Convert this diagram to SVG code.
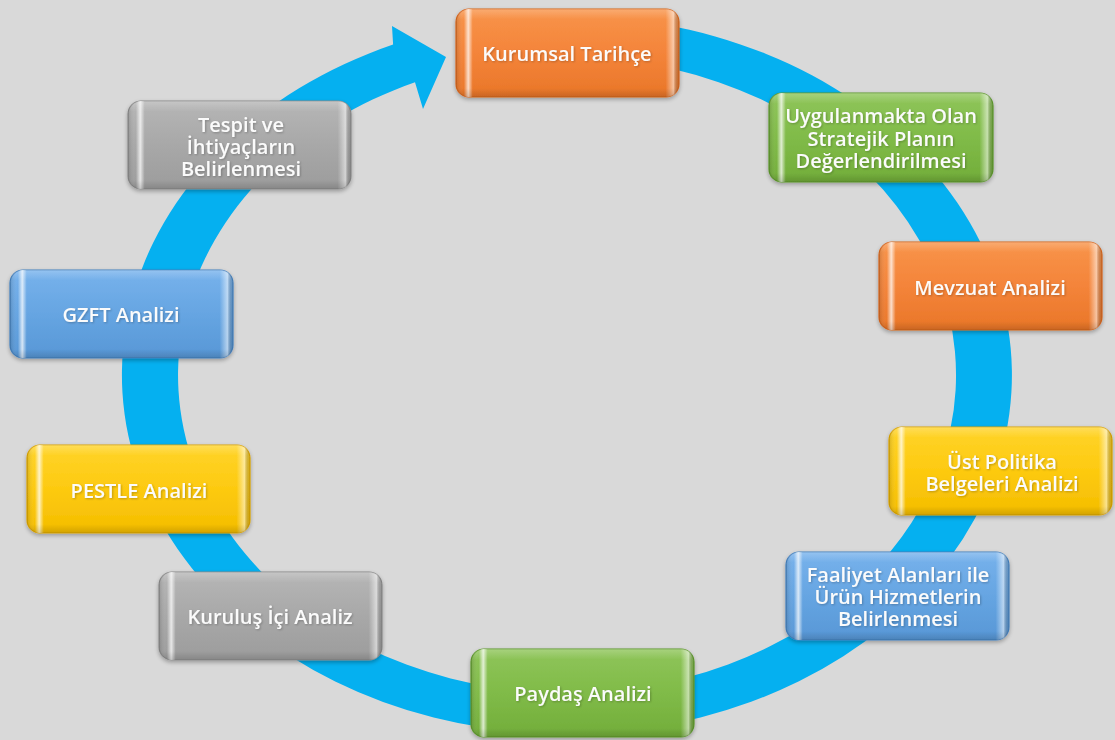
<svg xmlns="http://www.w3.org/2000/svg" width="1115" height="740" viewBox="0 0 1115 740">
<style>
  .lbl { font-family: "Open Sans", "Liberation Sans", sans-serif; font-size: 20px; font-weight: 600; fill: #fbfbfb; text-anchor: middle; dominant-baseline: central; }
  .box { stroke-width: 1.2; }
  .ring { fill: #05b0f0; }
</style>
<defs>
  <linearGradient id="gOrange" x1="0" y1="0" x2="0" y2="1">
    <stop offset="0" stop-color="#f8944a"/><stop offset="0.5" stop-color="#f4843a"/><stop offset="1" stop-color="#e97628"/>
  </linearGradient>
  <linearGradient id="gGreen" x1="0" y1="0" x2="0" y2="1">
    <stop offset="0" stop-color="#8fc55a"/><stop offset="0.5" stop-color="#80bb48"/><stop offset="1" stop-color="#72ad3a"/>
  </linearGradient>
  <linearGradient id="gYellow" x1="0" y1="0" x2="0" y2="1">
    <stop offset="0" stop-color="#ffd42a"/><stop offset="0.5" stop-color="#fdca10"/><stop offset="1" stop-color="#f4bd00"/>
  </linearGradient>
  <linearGradient id="gBlue" x1="0" y1="0" x2="0" y2="1">
    <stop offset="0" stop-color="#77b2ec"/><stop offset="0.5" stop-color="#66a5e2"/><stop offset="1" stop-color="#5797d6"/>
  </linearGradient>
  <linearGradient id="gGrey" x1="0" y1="0" x2="0" y2="1">
    <stop offset="0" stop-color="#b6b6b6"/><stop offset="0.5" stop-color="#a8a8a8"/><stop offset="1" stop-color="#9c9c9c"/>
  </linearGradient>
  <linearGradient id="bevelH" x1="0" y1="0" x2="1" y2="0">
    <stop offset="0" stop-color="#000" stop-opacity="0.15"/>
    <stop offset="0.035" stop-color="#fff" stop-opacity="0"/>
    <stop offset="0.055" stop-color="#fff" stop-opacity="0.75"/>
    <stop offset="0.075" stop-color="#fff" stop-opacity="0"/>
    <stop offset="0.94" stop-color="#fff" stop-opacity="0"/>
    <stop offset="0.975" stop-color="#fff" stop-opacity="0.55"/>
    <stop offset="1" stop-color="#000" stop-opacity="0.1"/>
  </linearGradient>
  <linearGradient id="bevelV" x1="0" y1="0" x2="0" y2="1">
    <stop offset="0" stop-color="#fff" stop-opacity="0.22"/>
    <stop offset="0.12" stop-color="#fff" stop-opacity="0"/>
    <stop offset="0.9" stop-color="#000" stop-opacity="0"/>
    <stop offset="1" stop-color="#000" stop-opacity="0.14"/>
  </linearGradient>
  <filter id="shadow" x="-10%" y="-10%" width="120%" height="130%">
    <feGaussianBlur in="SourceAlpha" stdDeviation="2"/>
    <feOffset dx="0" dy="2" result="b"/>
    <feComponentTransfer><feFuncA type="linear" slope="0.3"/></feComponentTransfer>
    <feMerge><feMergeNode/><feMergeNode in="SourceGraphic"/></feMerge>
  </filter>
  <filter id="tshadow" x="-5%" y="-20%" width="110%" height="140%">
    <feGaussianBlur in="SourceAlpha" stdDeviation="0.8"/>
    <feOffset dx="0.5" dy="1" result="b"/>
    <feComponentTransfer><feFuncA type="linear" slope="0.25"/></feComponentTransfer>
    <feMerge><feMergeNode/><feMergeNode in="SourceGraphic"/></feMerge>
  </filter>
</defs>
<rect x="0" y="0" width="1115" height="740" fill="#d9d9d9"/>

<g id="connectors">
  <path class="ring" d="M582.5 16.2 A445 359 0 1 1 393.1 44.5 L392 26 L446 57 L423 109 L415 82.3 A389 318 0 1 0 580.6 57.2 Z"/>
</g>

<g id="n1" filter="url(#shadow)">
  <rect class="box" x="456" y="9" width="223" height="88" rx="13" fill="url(#gOrange)" stroke="#d8661c"/>
  <rect x="456" y="9" width="223" height="88" rx="13" fill="url(#bevelH)"/>
  <rect x="456" y="9" width="223" height="88" rx="13" fill="url(#bevelV)"/>
  <text class="lbl" x="567" y="53" filter="url(#tshadow)">Kurumsal Tarihçe</text>
</g>

<g id="n2" filter="url(#shadow)">
  <rect class="box" x="769" y="93" width="224" height="89" rx="13" fill="url(#gGreen)" stroke="#5e9a2c"/>
  <rect x="769" y="93" width="224" height="89" rx="13" fill="url(#bevelH)"/>
  <rect x="769" y="93" width="224" height="89" rx="13" fill="url(#bevelV)"/>
  <text class="lbl" x="881" y="115" filter="url(#tshadow)">Uygulanmakta Olan</text>
  <text class="lbl" x="881" y="138" filter="url(#tshadow)">Stratejik Planın</text>
  <text class="lbl" x="881" y="160" filter="url(#tshadow)">Değerlendirilmesi</text>
</g>

<g id="n3" filter="url(#shadow)">
  <rect class="box" x="879" y="242" width="223" height="88" rx="13" fill="url(#gOrange)" stroke="#d8661c"/>
  <rect x="879" y="242" width="223" height="88" rx="13" fill="url(#bevelH)"/>
  <rect x="879" y="242" width="223" height="88" rx="13" fill="url(#bevelV)"/>
  <text class="lbl" x="990" y="287" filter="url(#tshadow)">Mevzuat Analizi</text>
</g>

<g id="n4" filter="url(#shadow)">
  <rect class="box" x="889" y="427" width="223" height="88" rx="13" fill="url(#gYellow)" stroke="#dca500"/>
  <rect x="889" y="427" width="223" height="88" rx="13" fill="url(#bevelH)"/>
  <rect x="889" y="427" width="223" height="88" rx="13" fill="url(#bevelV)"/>
  <text class="lbl" x="1002" y="461" filter="url(#tshadow)">Üst Politika</text>
  <text class="lbl" x="1002" y="483" filter="url(#tshadow)">Belgeleri Analizi</text>
</g>

<g id="n5" filter="url(#shadow)">
  <rect class="box" x="786" y="552" width="223" height="88" rx="13" fill="url(#gBlue)" stroke="#4582c0"/>
  <rect x="786" y="552" width="223" height="88" rx="13" fill="url(#bevelH)"/>
  <rect x="786" y="552" width="223" height="88" rx="13" fill="url(#bevelV)"/>
  <text class="lbl" x="898" y="574" filter="url(#tshadow)">Faaliyet Alanları ile</text>
  <text class="lbl" x="898" y="596" filter="url(#tshadow)">Ürün Hizmetlerin</text>
  <text class="lbl" x="898" y="618" filter="url(#tshadow)">Belirlenmesi</text>
</g>

<g id="n6" filter="url(#shadow)">
  <rect class="box" x="471" y="649" width="223" height="88" rx="13" fill="url(#gGreen)" stroke="#5e9a2c"/>
  <rect x="471" y="649" width="223" height="88" rx="13" fill="url(#bevelH)"/>
  <rect x="471" y="649" width="223" height="88" rx="13" fill="url(#bevelV)"/>
  <text class="lbl" x="583" y="693" filter="url(#tshadow)">Paydaş Analizi</text>
</g>

<g id="n7" filter="url(#shadow)">
  <rect class="box" x="159" y="572" width="223" height="88" rx="13" fill="url(#gGrey)" stroke="#8a8a8a"/>
  <rect x="159" y="572" width="223" height="88" rx="13" fill="url(#bevelH)"/>
  <rect x="159" y="572" width="223" height="88" rx="13" fill="url(#bevelV)"/>
  <text class="lbl" x="270" y="616" filter="url(#tshadow)">Kuruluş İçi Analiz</text>
</g>

<g id="n8" filter="url(#shadow)">
  <rect class="box" x="27" y="445" width="223" height="88" rx="13" fill="url(#gYellow)" stroke="#dca500"/>
  <rect x="27" y="445" width="223" height="88" rx="13" fill="url(#bevelH)"/>
  <rect x="27" y="445" width="223" height="88" rx="13" fill="url(#bevelV)"/>
  <text class="lbl" x="139" y="490" filter="url(#tshadow)">PESTLE Analizi</text>
</g>

<g id="n9" filter="url(#shadow)">
  <rect class="box" x="10" y="270" width="223" height="88" rx="13" fill="url(#gBlue)" stroke="#4582c0"/>
  <rect x="10" y="270" width="223" height="88" rx="13" fill="url(#bevelH)"/>
  <rect x="10" y="270" width="223" height="88" rx="13" fill="url(#bevelV)"/>
  <text class="lbl" x="121" y="314" filter="url(#tshadow)">GZFT Analizi</text>
</g>

<g id="n10" filter="url(#shadow)">
  <rect class="box" x="128" y="101" width="223" height="88" rx="13" fill="url(#gGrey)" stroke="#8a8a8a"/>
  <rect x="128" y="101" width="223" height="88" rx="13" fill="url(#bevelH)"/>
  <rect x="128" y="101" width="223" height="88" rx="13" fill="url(#bevelV)"/>
  <text class="lbl" x="241" y="124" filter="url(#tshadow)">Tespit ve</text>
  <text class="lbl" x="241" y="146" filter="url(#tshadow)">İhtiyaçların</text>
  <text class="lbl" x="241" y="168" filter="url(#tshadow)">Belirlenmesi</text>
</g>
</svg>
